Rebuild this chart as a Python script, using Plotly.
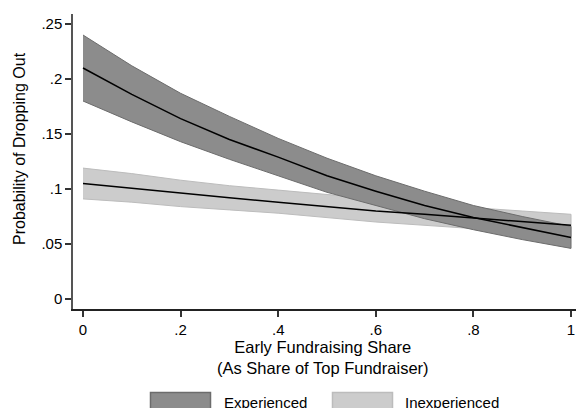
import plotly.graph_objects as go

share = [0.0, 0.1, 0.2, 0.3, 0.4, 0.5, 0.6, 0.7, 0.8, 0.9, 1.0]

exp_mean  = [0.210, 0.186, 0.164, 0.145, 0.129, 0.112, 0.098, 0.085, 0.074, 0.065, 0.056]
exp_upper = [0.240, 0.212, 0.187, 0.166, 0.146, 0.128, 0.112, 0.098, 0.085, 0.075, 0.066]
exp_lower = [0.180, 0.161, 0.143, 0.127, 0.112, 0.097, 0.085, 0.073, 0.063, 0.054, 0.046]

inx_mean  = [0.105, 0.1005, 0.096, 0.092, 0.088, 0.084, 0.080, 0.077, 0.0735, 0.070, 0.067]
inx_upper = [0.119, 0.114, 0.108, 0.103, 0.099, 0.095, 0.091, 0.087, 0.083, 0.080, 0.077]
inx_lower = [0.091, 0.088, 0.084, 0.081, 0.078, 0.074, 0.070, 0.067, 0.064, 0.061, 0.057]

x_ticks = [0, 0.2, 0.4, 0.6, 0.8, 1.0]
x_labels = ["0", ".2", ".4", ".6", ".8", "1"]
y_ticks = [0, 0.05, 0.1, 0.15, 0.2, 0.25]
y_labels = ["0", ".05", ".1", ".15", ".2", ".25"]

DARK_FILL, DARK_LINE = "#8c8c8c", "#6c6c6c"
LIGHT_FILL, LIGHT_LINE = "#cccccc", "#bcbcbc"
FONT = "Liberation Sans, Arial, sans-serif"

fig = go.Figure()

def band(upper, lower, fill, line, name):
    fig.add_trace(go.Scatter(
        x=share + share[::-1], y=upper + lower[::-1],
        fill="toself", fillcolor=fill, mode="lines",
        line=dict(color=line, width=1), name=name, showlegend=False,
        hoverinfo="skip"))

band(inx_upper, inx_lower, LIGHT_FILL, LIGHT_LINE, "Inexperienced")
band(exp_upper, exp_lower, DARK_FILL, DARK_LINE, "Experienced")

for m in (exp_mean, inx_mean):
    fig.add_trace(go.Scatter(x=share, y=m, mode="lines",
                             line=dict(color="black", width=1.5),
                             showlegend=False))

W, H = 576, 408
L, R, T, B = 73, 0, 14, 99
pw = W - L - R
ph = H - T - B

def px_x(p):
    return (p - L) / pw

def px_y(p):
    return (H - B - p) / ph

shapes = []
annotations = []
legend_items = [("Experienced", DARK_FILL, DARK_LINE, 150.5, 210.5, 222),
                ("Inexperienced", LIGHT_FILL, LIGHT_LINE, 332.5, 392.5, 403)]
for name, fc, lc, x0, x1, tx in legend_items:
    shapes.append(dict(type="rect", xref="paper", yref="paper",
                       x0=px_x(x0), x1=px_x(x1), y0=px_y(412), y1=px_y(392.5),
                       fillcolor=fc, line=dict(color=lc, width=1.5)))
    annotations.append(dict(text=name, xref="paper", yref="paper",
                            x=px_x(tx), y=px_y(402.5), xanchor="left", yanchor="middle",
                            showarrow=False, font=dict(size=15, color="black", family=FONT)))

annotations.append(dict(text="Early Fundraising Share<br>(As Share of Top Fundraiser)",
                        xref="paper", yref="paper", x=px_x(323), y=px_y(357.5),
                        xanchor="center", yanchor="middle", showarrow=False,
                        font=dict(size=16.5, color="black", family=FONT)))
annotations.append(dict(text="Probability of Dropping Out", textangle=-90,
                        xref="paper", yref="paper", x=px_x(19), y=px_y(149),
                        xanchor="center", yanchor="middle", showarrow=False,
                        font=dict(size=16, color="black", family=FONT)))

fig.update_layout(
    width=W, height=H,
    margin=dict(l=L, r=R, t=T, b=B, autoexpand=False),
    paper_bgcolor="white", plot_bgcolor="white",
    font=dict(family=FONT, size=15, color="black"),
    shapes=shapes, annotations=annotations,
    showlegend=False,
)
fig.update_xaxes(range=[-0.0205, 1.0102], tickvals=x_ticks, ticktext=x_labels,
                 showgrid=False, zeroline=False, showline=True, linecolor="#222",
                 linewidth=1.5, ticks="outside", ticklen=6, tickcolor="#333",
                 tickwidth=1.5, tickfont=dict(size=15), automargin=False)
fig.update_yaxes(range=[-0.0091, 0.2591], tickvals=y_ticks, ticktext=y_labels,
                 showgrid=False, zeroline=False, showline=True, linecolor="#555",
                 linewidth=1.5, ticks="outside", ticklen=6, tickcolor="#333",
                 tickwidth=1.5, tickfont=dict(size=15), automargin=False)

fig.write_html("out.html", config={"displayModeBar": False},
               post_script="document.body.style.margin='0';document.body.style.overflow='hidden';")
